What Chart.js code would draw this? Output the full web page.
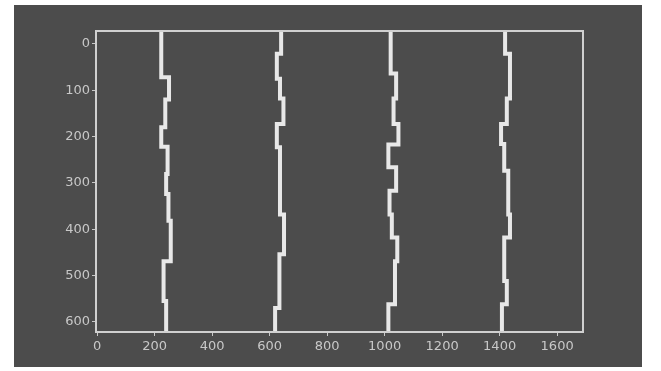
<!DOCTYPE html>
<html>
<head>
<meta charset="utf-8">
<script src="https://cdn.jsdelivr.net/npm/chart.js@4/dist/chart.umd.min.js"></script>
<style>
  html, body { margin: 0; padding: 0; background: #ffffff; }
  #wrap { width: 661px; height: 371px; }
</style>
</head>
<body>
<div id="wrap"><canvas id="traceChart" width="661" height="371"></canvas></div>
<script>
// y ticks (depth, reversed axis) and x ticks
const yTicks = [0, 100, 200, 300, 400, 500, 600];
const xTicks = [0, 200, 400, 600, 800, 1000, 1200, 1400, 1600];

// each trace: depth where a segment ends, and the x position of that segment
const trace1Depth = [72, 120, 180, 222, 281, 324, 382, 469, 555, 622];
const trace1X = [223, 250, 237, 223, 245, 240, 248, 256, 231, 240];

const trace2Depth = [21, 75, 118, 173, 223, 368, 454, 570, 622];
const trace2X = [640, 625, 636, 648, 625, 636, 650, 634, 619];

const trace3Depth = [64, 118, 173, 217, 266, 317, 368, 418, 469, 562, 622];
const trace3X = [1021, 1040, 1031, 1048, 1013, 1040, 1017, 1025, 1044, 1036, 1013];

const trace4Depth = [21, 118, 173, 216, 274, 368, 418, 512, 562, 622];
const trace4X = [1419, 1436, 1425, 1405, 1416, 1430, 1436, 1416, 1425, 1408];

const depthTop = -28;

function stepPoints(depths, xs) {
  const pts = [];
  let start = depthTop;
  for (let i = 0; i < depths.length; i++) {
    pts.push({ x: xs[i], y: start });
    pts.push({ x: xs[i], y: depths[i] });
    start = depths[i];
  }
  return pts;
}

function traceSet(depths, xs) {
  return {
    data: stepPoints(depths, xs),
    borderColor: "#e8e8e8",
    borderWidth: 4,
    pointRadius: 0,
    fill: false,
    tension: 0,
  };
}

const panelPlugin = {
  id: "panel",
  beforeDraw(chart) {
    const ctx = chart.ctx;
    ctx.save();
    ctx.fillStyle = "#4c4c4c";
    ctx.fillRect(14, 5, 628, 362);
    ctx.restore();
  },
  afterDatasetsDraw(chart) {
    const a = chart.chartArea;
    const ctx = chart.ctx;
    ctx.save();
    ctx.strokeStyle = "#d0d0d0";
    ctx.lineWidth = 2;
    ctx.strokeRect(a.left, a.top, a.right - a.left, a.bottom - a.top);
    ctx.restore();
  },
};

const traceChart = new Chart(document.getElementById("traceChart").getContext("2d"), {
  type: "line",
  data: {
    datasets: [
      traceSet(trace1Depth, trace1X),
      traceSet(trace2Depth, trace2X),
      traceSet(trace3Depth, trace3X),
      traceSet(trace4Depth, trace4X),
    ],
  },
  plugins: [panelPlugin],
  options: {
    responsive: false,
    animation: false,
    layout: { padding: { left: 14, top: 31, right: 78, bottom: 4 } },
    plugins: {
      legend: { display: false },
      tooltip: { enabled: false },
    },
    scales: {
      x: {
        type: "linear",
        min: -4,
        max: 1690,
        afterBuildTicks: function (scale) {
          scale.ticks = xTicks.map(function (v) { return { value: v }; });
        },
        afterFit: function (scale) { scale.height = 35; },
        ticks: {
          color: "#c8c8c8",
          font: { family: "DejaVu Sans", size: 13 },
          maxRotation: 0,
          padding: 3,
          callback: function (v) { return String(v); },
        },
        grid: { drawOnChartArea: false, color: "#c8c8c8", tickLength: 4, lineWidth: 1 },
        border: { display: false },
      },
      y: {
        type: "linear",
        reverse: true,
        min: depthTop,
        max: 622,
        afterBuildTicks: function (scale) {
          scale.ticks = yTicks.map(function (v) { return { value: v }; });
        },
        afterFit: function (scale) { scale.width = 82; },
        ticks: {
          color: "#c8c8c8",
          font: { family: "DejaVu Sans", size: 13 },
          padding: 2,
          callback: function (v) { return String(v); },
        },
        grid: { drawOnChartArea: false, color: "#c8c8c8", tickLength: 4, lineWidth: 1 },
        border: { display: false },
      },
    },
  },
});
</script>
</body>
</html>
